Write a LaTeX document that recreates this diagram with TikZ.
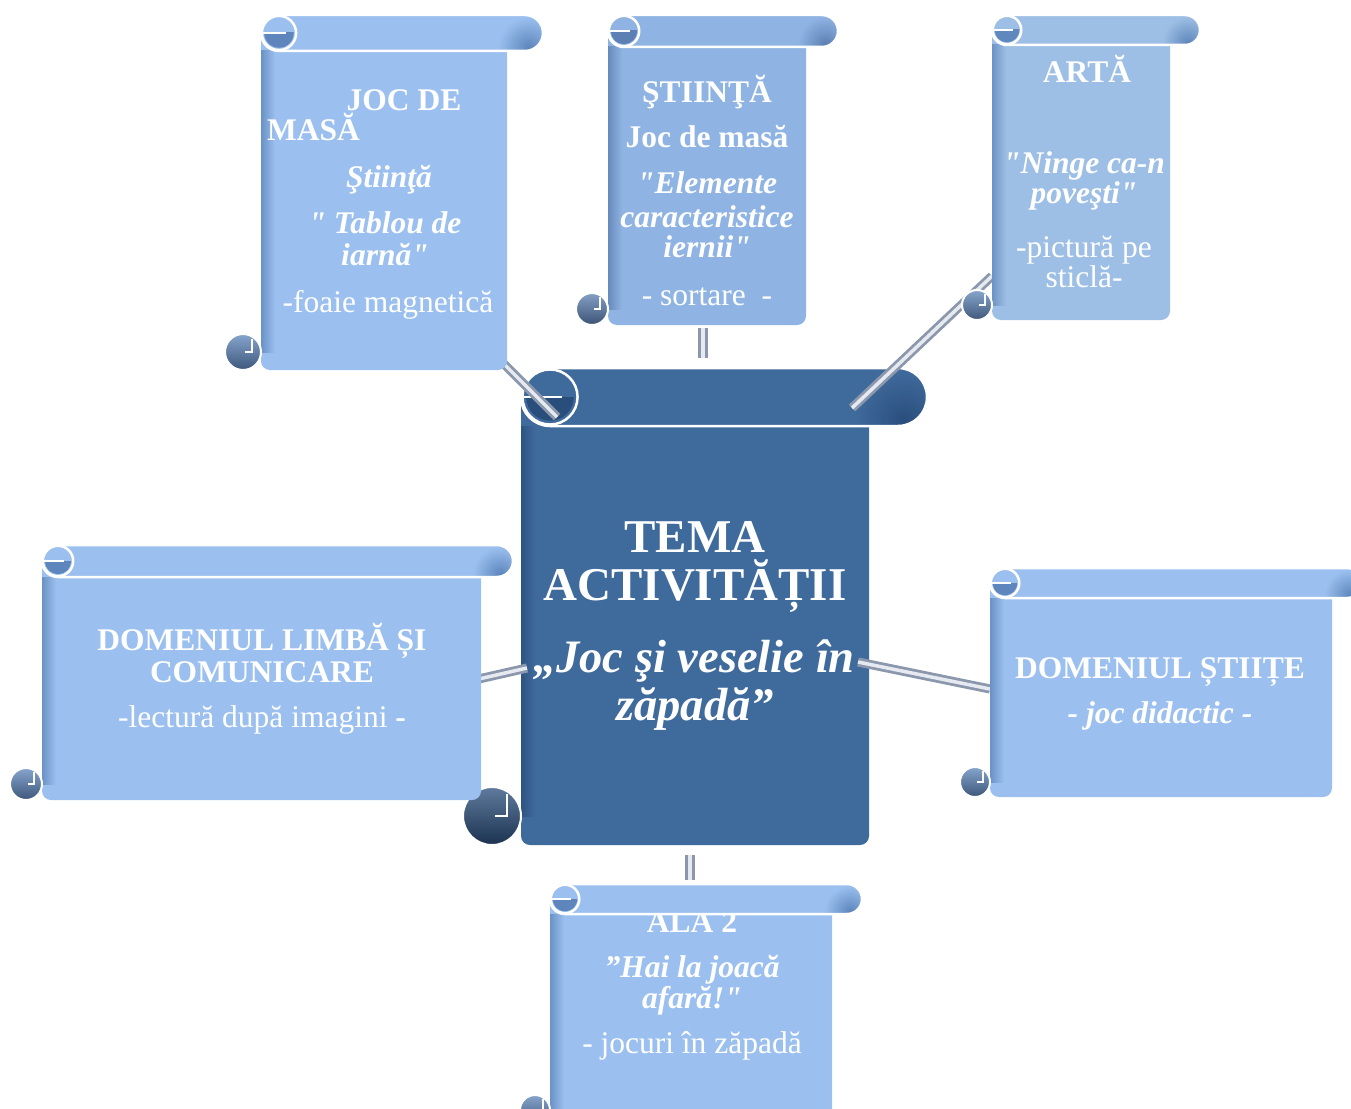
\documentclass[tikz,border=0pt]{standalone}
\usepackage{fontspec}
\setmainfont{Liberation Serif}[Ligatures=TeXOff]
\definecolor{lite}{HTML}{9BC0EF}
\definecolor{liteD}{HTML}{5E86BC}
\definecolor{midc}{HTML}{8FB4E3}
\definecolor{midD}{HTML}{5C80B3}
\definecolor{artc}{HTML}{9EBFE5}
\definecolor{artD}{HTML}{6088BC}
\definecolor{cenc}{HTML}{3F6A9C}
\definecolor{cenD}{HTML}{2A4E7C}
\definecolor{barE}{HTML}{8A97AC}
\definecolor{barC}{HTML}{E6EAF0}
% #1 X0, #2 Y0, #3 X1, #4 Y1, #5 r, #6 fill, #7 dark
\newcommand\scrlbody[7]{%
  \fill[#6, rounded corners=9pt] ({#1+2*#5},{#2+#5}) rectangle ({#3-2*#5},{#4});
  \shade[left color=#7!80!#6, right color=#6] ({#1+2*#5},{#2+2*#5}) rectangle ({#1+2*#5+14},{#4-#5});
  \shadedraw[top color=#7!75!white, bottom color=#7!65!black, draw=white, line width=2pt]
     ({#1+#5},{#4-#5}) circle[radius=#5];
  \draw[white, line width=2pt] ({#1+1.5*#5},{#4-1.75*#5}) -- ({#1+1.5*#5},{#4-1.0*#5}) -- ({#1+1.1*#5},{#4-1.0*#5});
}
\newcommand\scrlroll[7]{%
  \fill[#6, rounded corners=#5pt] ({#1+2*#5},{#2}) rectangle ({#3},{#2+2*#5});
  \begin{scope}
    \clip[rounded corners=#5pt] ({#1+2*#5},{#2}) rectangle ({#3},{#2+2*#5});
    \shade[inner color=#7, outer color=#6] ({#3-0.8*#5},{#2+1.8*#5}) circle[radius=1.7*#5];
  \end{scope}
  \draw[white, line width=2.5pt, rounded corners=#5pt] ({#1+2*#5},{#2}) rectangle ({#3},{#2+2*#5});
  \filldraw[fill=#6, draw=white, line width=2.5pt] ({#1+3*#5},{#2+#5}) circle[radius=0.95*#5];
  \begin{scope}
    \clip ({#1+2*#5},{#2+#5}) rectangle ({#1+4*#5},{#2+2*#5});
    \fill[#7] ({#1+3*#5},{#2+#5}) circle[radius=0.82*#5];
  \end{scope}
  \draw[white, line width=2pt] ({#1+2.1*#5},{#2+#5}) -- ({#1+3.4*#5},{#2+#5});
}
\newcommand\scrl[7]{\scrlbody{#1}{#2}{#3}{#4}{#5}{#6}{#7}\scrlroll{#1}{#2}{#3}{#4}{#5}{#6}{#7}}
\begin{document}
\begin{tikzpicture}[x=1pt,y=-1pt,
  tx/.style={text=white, inner sep=0pt, anchor=base},
  bf/.style={tx, font=\fontsize{31.5}{32}\selectfont\bfseries},
  bi/.style={tx, font=\fontsize{31.5}{32}\selectfont\bfseries\itshape},
  rg/.style={tx, font=\fontsize{31.5}{32}\selectfont},
  cb/.style={tx, font=\fontsize{47}{48}\selectfont\bfseries},
  ci/.style={tx, font=\fontsize{46.5}{48}\selectfont\bfseries\itshape},
  bar/.style={draw=barE, line width=2.8pt, double=barC, double distance=3.5pt}]
\useasboundingbox (0,0) rectangle (1351,1108);
\clip (0,0) rectangle (1351,1108);
\fill[white] (0,0) rectangle (1351,1108);

% centre scroll
\scrl{463}{368}{927}{845}{29}{cenc}{cenD}
\node[cb] (c1) at (695,552) {TEMA};
\node[cb] (c2) at (695,600) {ACTIVITĂȚII};
\node[ci] (c3) at (694,672) {„Joc şi veselie în};
\node[ci] (c4) at (695,720) {zăpadă”};

% connectors
\coordinate (k1a) at (500,360); \coordinate (k1b) at (557,417);
\coordinate (k2a) at (703,328); \coordinate (k2b) at (703,358);
\coordinate (k3a) at (992,276); \coordinate (k3b) at (852,408);
\coordinate (k4a) at (470,681); \coordinate (k4b) at (527,668);
\coordinate (k5a) at (858,662); \coordinate (k5b) at (990,689);
\coordinate (k6a) at (690,855); \coordinate (k6b) at (690,880);
\draw[bar] (k1a) -- (k1b);
\draw[bar] (k2a) -- (k2b);
\draw[bar] (k3a) -- (k3b);
\draw[bar] (k4a) -- (k4b);
\draw[bar] (k5a) -- (k5b);
\draw[bar] (k6a) -- (k6b);

% top-left scroll
\scrl{225}{15}{543}{370}{18}{lite}{liteD}
\node[bf] (t1) at (404,110) {JOC DE};
\node[bf, anchor=base west] (t2) at (267,140) {MASĂ};
\node[bi] (t3) at (389,187) {Ştiinţă};
\node[bi] (t4) at (385,233) {" Tablou de};
\node[bi] (t5) at (385,265) {iarnă"};
\node[rg] (t6) at (388,312) {-foaie magnetică};

% top-middle scroll
\scrl{576}{15}{838}{325}{16}{midc}{midD}
\node[bf] (m1) at (707,102) {ŞTIINŢĂ};
\node[bf] (m2) at (707,147) {Joc de masă};
\node[bi] (m3) at (707,193) {"Elemente};
\node[bi] (m4) at (707,227) {caracteristice};
\node[bi] (m5) at (707,257) {iernii"};
\node[rg] (m6) at (707,305) {- sortare\ \ -};

% top-right scroll
\scrl{962}{15}{1200}{320}{15}{artc}{artD}
\node[bf] (r1) at (1087,82) {ARTĂ};
\node[bi] (r2) at (1084,173) {"Ninge ca-n};
\node[bi] (r3) at (1084,203) {poveşti"};
\node[rg] (r4) at (1084,257) {-pictură pe};
\node[rg] (r5) at (1084,287) {sticlă-};

% left scroll
\scrl{10}{545}{513}{800}{16}{lite}{liteD}
\node[bf] (l1) at (262,650) {DOMENIUL LIMBĂ ȘI};
\node[bf] (l2) at (262,682) {COMUNICARE};
\node[rg] (l3) at (262,727) {-lectură după imagini \textbf{-}};

% right scroll
\scrl{960}{568}{1362}{797}{15}{lite}{liteD}
\node[bf] (g1) at (1160,678) {DOMENIUL ȘTIIȚE};
\node[bi] (g2) at (1160,723) {- joc didactic -};

% bottom scroll
\scrlbody{520}{884}{862}{1125}{15}{lite}{liteD}
\node[bf] (b1) at (692,932) {ALA 2};
\node[bi] (b2) at (692,977) {”Hai la joacă};
\node[bi] (b3) at (692,1008) {afară!"};
\node[rg] (b4) at (692,1053) {- jocuri în zăpadă};
\scrlroll{520}{884}{862}{1125}{15}{lite}{liteD}
\end{tikzpicture}
\end{document}
